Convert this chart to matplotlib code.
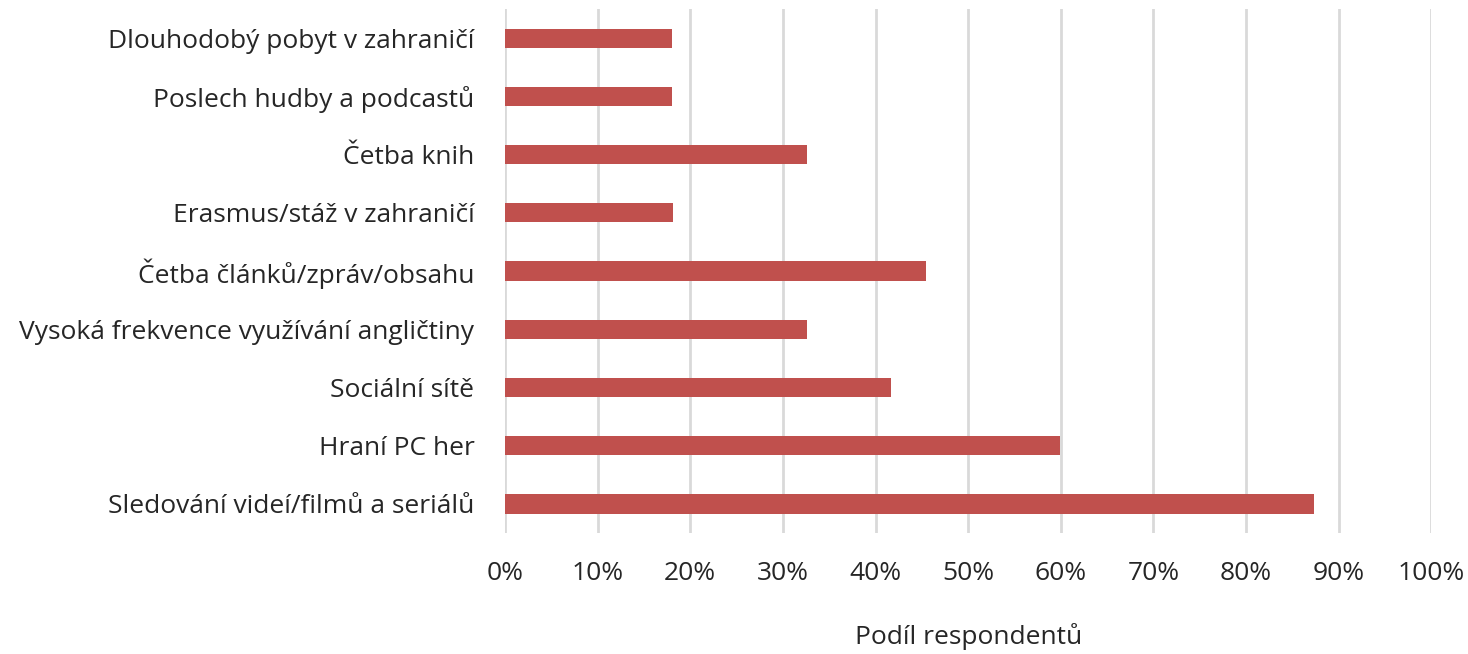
import matplotlib
matplotlib.use("Agg")
import matplotlib.pyplot as plt
from matplotlib.ticker import PercentFormatter

plt.rcParams['font.family'] = ['Open Sans', 'DejaVu Sans']

# bottom to top, as drawn
categories = [
    "Sledování videí/filmů a seriálů",
    "Hraní PC her",
    "Sociální sítě",
    "Vysoká frekvence využívání angličtiny",
    "Četba článků/zpráv/obsahu",
    "Erasmus/stáž v zahraničí",
    "Četba knih",
    "Poslech hudby a podcastů",
    "Dlouhodobý pobyt v zahraničí",
]
shares = [87.3, 59.9, 41.7, 32.6, 45.4, 18.1, 32.6, 18.0, 18.0]
ticks = list(range(0, 101, 10))

fig = plt.figure(figsize=(14.68, 6.54), dpi=100)
ax = fig.add_axes([0.344, 0.185, 0.631, 0.801])

ax.barh(range(len(categories)), shares, height=0.33, color="#C0504D", zorder=3)

ax.set_xlim(0, 100)
ax.set_ylim(-0.5, len(categories) - 0.5)
ax.set_xticks(ticks)
ax.xaxis.set_major_formatter(PercentFormatter(decimals=0))
ax.set_yticks(range(len(categories)))
ax.set_yticklabels(categories)
ax.grid(axis="x", color="#D9D9D9", linewidth=2, zorder=0)
for s in ax.spines.values():
    s.set_visible(False)
ax.tick_params(axis="both", length=0, labelsize=19, colors="#262626")
ax.tick_params(axis="y", pad=22)
ax.tick_params(axis="x", pad=20)
ax.set_xlabel("Podíl respondentů", fontsize=19, color="#262626", labelpad=27)

fig.savefig("out.png", dpi=100)
